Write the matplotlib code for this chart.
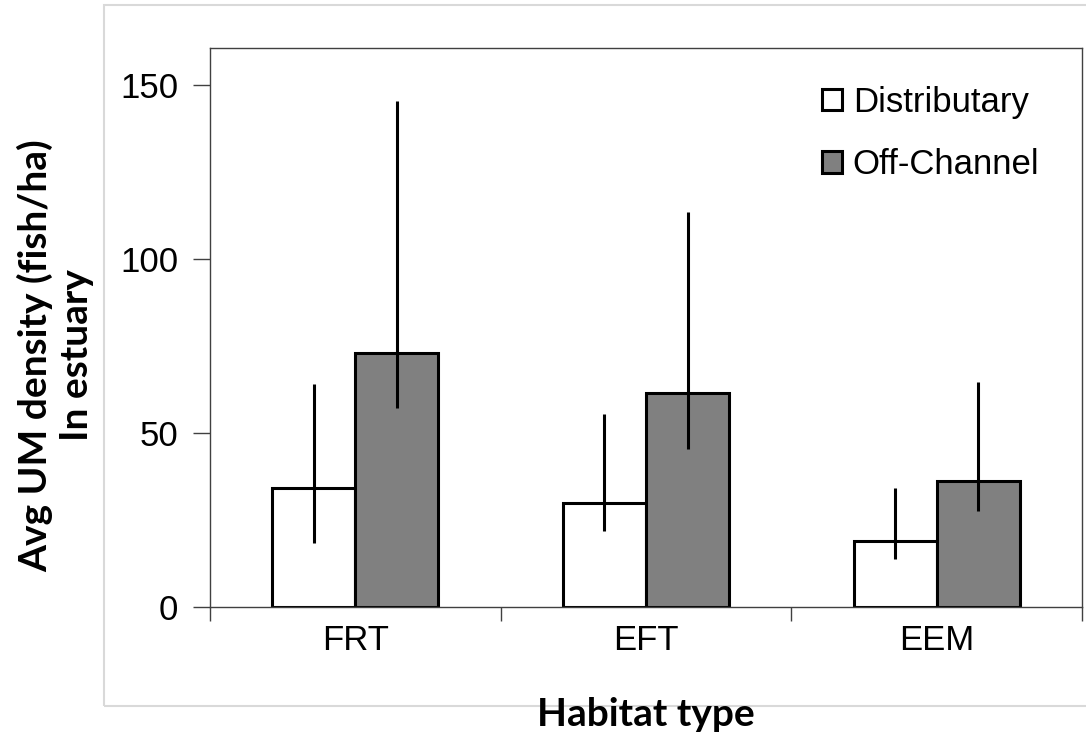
import numpy as np
import matplotlib.pyplot as plt
from matplotlib.patches import Rectangle

habitats = ['FRT', 'EFT', 'EEM']
series = ['Distributary', 'Off-Channel']

dist_mean = [34.2, 29.9, 19.0]
dist_low = [18.4, 21.9, 14.0]
dist_high = [64.0, 55.4, 34.4]

off_mean = [73.1, 61.4, 36.2]
off_low = [57.1, 45.4, 27.6]
off_high = [145.4, 113.5, 64.7]

plt.rcParams['font.family'] = ['Liberation Sans', 'DejaVu Sans']

fig = plt.figure(figsize=(10.86, 7.36), dpi=100)
ax = fig.add_axes([0.1934, 0.1746, 0.8029, 0.7602])

# light grey chart-area border
fig.patches.append(Rectangle((104/1086, 1-706/736), 1.0, 701/736,
                             transform=fig.transFigure, fill=False,
                             edgecolor='#d9d9d9', linewidth=1.5))

x = np.arange(len(habitats))
w = 1/3.5

def yerr(mean, lo, hi):
    return [np.array(mean)-np.array(lo), np.array(hi)-np.array(mean)]

ax.bar(x - w/2, dist_mean, w, color='white', edgecolor='black',
       linewidth=2.2, label=series[0], zorder=2)
ax.bar(x + w/2, off_mean, w, color='#808080', edgecolor='black',
       linewidth=2.2, label=series[1], zorder=2)
ax.errorbar(x - w/2, dist_mean, yerr=yerr(dist_mean, dist_low, dist_high),
            fmt='none', ecolor='black', elinewidth=2.2, capsize=0, zorder=3)
ax.errorbar(x + w/2, off_mean, yerr=yerr(off_mean, off_low, off_high),
            fmt='none', ecolor='black', elinewidth=2.2, capsize=0, zorder=3)

ax.set_xlim(-0.5, 2.5)
ax.set_ylim(0, 160.5)
ax.set_yticks([0, 50, 100, 150])
ax.set_xticks(x)
ax.set_xticklabels(habitats)
ax.set_xticks([-0.5, 0.5, 1.5, 2.5], minor=True)
ax.tick_params(axis='x', which='major', length=0, labelsize=25, pad=12)
ax.tick_params(axis='x', which='minor', length=10, width=1, color='#404040',
               direction='out')
ax.tick_params(axis='y', length=12, width=1, color='#404040', labelsize=25,
               pad=11)
for s in ax.spines.values():
    s.set_color('#404040')
    s.set_linewidth(1)

ax.set_ylabel('Avg UM density (fish/ha)\nIn estuary', fontsize=28,
              fontweight='bold', family=['Lato', 'DejaVu Sans'],
              linespacing=1.2)
ax.yaxis.set_label_coords(-0.1335, 0.451)
fig.text(646/1086, 1-715/736, 'Habitat type', fontsize=28,
         fontweight='bold', family=['Lato', 'DejaVu Sans'],
         ha='center', va='center')

ax.legend(loc='upper left', bbox_to_anchor=(0.686, 0.957), frameon=False,
          fontsize=25, handlelength=0.58, handleheight=0.58,
          handletextpad=0.3, labelspacing=0.85, borderaxespad=0)

fig.savefig('out.png', dpi=100)
